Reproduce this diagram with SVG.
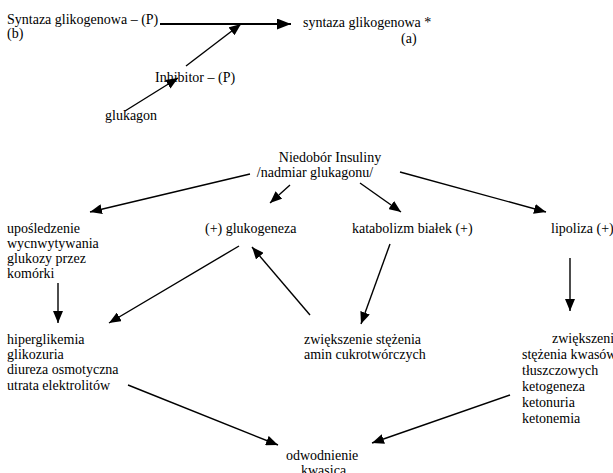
<svg xmlns="http://www.w3.org/2000/svg" width="613" height="473" viewBox="0 0 613 473">
  <style>
    text { font-family: "Liberation Serif", "Times New Roman", serif; font-size: 14px; fill: #000; }
    .edge { stroke: #000; stroke-width: 1.4; fill: none; marker-end: url(#head); }
    .bold { stroke-width: 2.2; marker-end: url(#headBig); }
  </style>
  <defs>
    <marker id="head" markerUnits="userSpaceOnUse" viewBox="0 0 12 10" refX="12" refY="5" markerWidth="12" markerHeight="10" orient="auto">
      <path d="M0,0 L12,5 L0,10 z" fill="#000"/>
    </marker>
    <marker id="headBig" markerUnits="userSpaceOnUse" viewBox="0 0 14 11" refX="14" refY="5.5" markerWidth="14" markerHeight="11" orient="auto">
      <path d="M0,0 L14,5.5 L0,11 z" fill="#000"/>
    </marker>
  </defs>

  <rect width="613" height="473" fill="#fff"/>

  <!-- connectors -->
  <g id="connectors">
    <line class="edge bold" x1="160" y1="24" x2="291" y2="24"/>
    <line class="edge" x1="125" y1="111" x2="178" y2="78"/>
    <line class="edge" x1="186" y1="66" x2="241" y2="24"/>
    <line class="edge" x1="250" y1="174" x2="90" y2="212"/>
    <line class="edge" x1="290" y1="185" x2="270" y2="203"/>
    <line class="edge" x1="360" y1="183" x2="401" y2="212"/>
    <line class="edge" x1="400" y1="172" x2="546" y2="212"/>
    <line class="edge" x1="58" y1="283" x2="58" y2="323"/>
    <line class="edge" x1="239" y1="246" x2="109" y2="323"/>
    <line class="edge" x1="310" y1="315" x2="252" y2="247"/>
    <line class="edge" x1="390" y1="244" x2="361" y2="324"/>
    <line class="edge" x1="570" y1="258" x2="570" y2="311"/>
    <line class="edge" x1="128" y1="385" x2="278" y2="445"/>
    <line class="edge" x1="510" y1="395" x2="372" y2="443"/>
  </g>

  <!-- nodes -->
  <g id="syntaza-p">
    <text x="7" y="24">Syntaza glikogenowa – (P)</text>
    <text x="7" y="38">(b)</text>
  </g>
  <g id="syntaza-a">
    <text x="303" y="27">syntaza glikogenowa *</text>
    <text x="401" y="43">(a)</text>
  </g>
  <g id="inhibitor">
    <text x="155" y="82">Inhibitor – (P)</text>
  </g>
  <g id="glukagon">
    <text x="105" y="120">glukagon</text>
  </g>
  <g id="niedobor">
    <text x="330" y="162" text-anchor="middle">Niedobór Insuliny</text>
    <text x="315" y="177" text-anchor="middle">/nadmiar glukagonu/</text>
  </g>
  <g id="uposledzenie">
    <text x="7" y="233">upośledzenie</text>
    <text x="7" y="248">wycnwytywania</text>
    <text x="7" y="263">glukozy przez</text>
    <text x="7" y="278">komórki</text>
  </g>
  <g id="glukogeneza">
    <text x="205" y="233">(+) glukogeneza</text>
  </g>
  <g id="katabolizm">
    <text x="352" y="233">katabolizm białek (+)</text>
  </g>
  <g id="lipoliza">
    <text x="551" y="233">lipoliza (+)</text>
  </g>
  <g id="hiperglikemia">
    <text x="7" y="344">hiperglikemia</text>
    <text x="7" y="359">glikozuria</text>
    <text x="7" y="374">diureza osmotyczna</text>
    <text x="7" y="390">utrata elektrolitów</text>
  </g>
  <g id="aminy">
    <text x="304" y="344">zwiększenie stężenia</text>
    <text x="304" y="359">amin cukrotwórczych</text>
  </g>
  <g id="kwasy">
    <text x="552" y="343">zwiększenie</text>
    <text x="522" y="359">stężenia kwasów</text>
    <text x="522" y="375">tłuszczowych</text>
    <text x="522" y="391">ketogeneza</text>
    <text x="522" y="407">ketonuria</text>
    <text x="522" y="423">ketonemia</text>
  </g>
  <g id="odwodnienie">
    <text x="286" y="460">odwodnienie</text>
    <text x="301" y="475">kwasica</text>
  </g>
</svg>
